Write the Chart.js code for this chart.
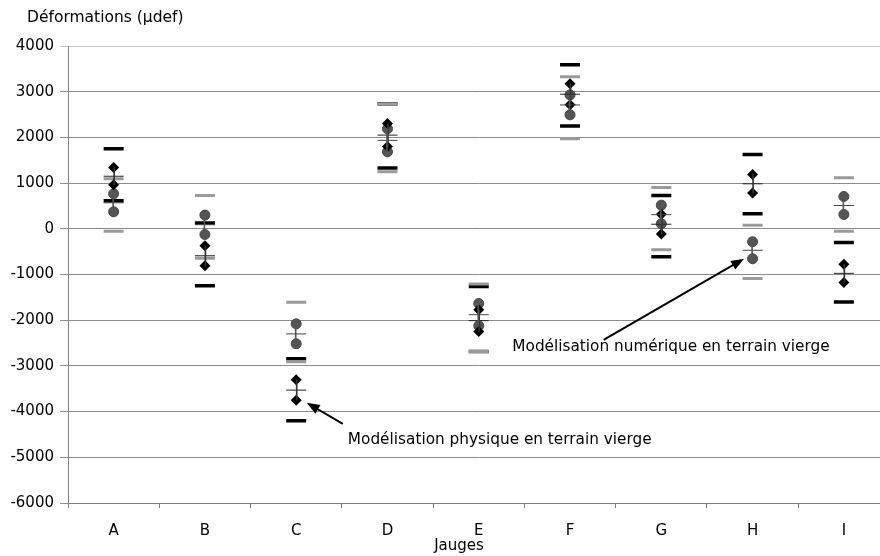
<!DOCTYPE html>
<html>
<head>
<meta charset="utf-8">
<script src="https://cdn.jsdelivr.net/npm/chart.js@4"></script>
<style>
html,body{margin:0;padding:0;background:#fff;overflow:hidden}
#wrap{position:relative;width:880px;height:556px;overflow:hidden}
#jauges{position:absolute;left:0;top:0}
</style>
</head>
<body>
<div id="wrap"><canvas id="jauges" width="903" height="556"></canvas></div>
<script>
// gauges on the x axis
const gauges=['A','B','C','D','E','F','G','H','I'];
const yTicks=[-6000,-5000,-4000,-3000,-2000,-1000,0,1000,2000,3000,4000];

// numeric model (grey circles), two values per gauge
const numHigh=[766,300,-2080,2188,-1634,2932,518,-284,707];
const numLow=[372,-124,-2516,1685,-2122,2494,109,-656,314];
const numMean=[570,90,-2300,1935,-1880,2710,310,-470,510];
// physical model (black diamonds)
const physHigh=[1342,-372,-3304,2304,-1772,3173,321,1189,-773];
const physLow=[963,-810,-3750,1801,-2247,2713,-116,781,-1175];
const physMean=[1150,-590,-3530,2050,-2010,2945,100,985,-975];
// grey bars = numeric bounds, black bars = physical bounds
const greyUp=[1094,729,-1605,2735,-1210,3326,904,80,1116];
const greyDown=[-51,-642,-2910,1247,-2685,1969,-460,-1087,-51];
const blackUp=[1750,125,-2845,2735,-1262,3589,729,1627,-300];
const blackDown=[613,-1247,-4201,1328,-2685,2247,-613,328,-1604];

// callouts, anchored in axis units (x = gauge index)
const notes=[
  {text:'Modélisation physique en terrain vierge',tx:2.566,ty:-4617,from:[2.511,-4267],to:[2.115,-3807]},
  {text:'Modélisation numérique en terrain vierge',tx:4.368,ty:-2582,from:[5.368,-2429],to:[6.907,-656]}
];

const FONT='"DejaVu Sans", sans-serif';

function pts(data,opts){
  return Object.assign({type:'line',data:data,showLine:false},opts);
}
function dash(data,color,w,order){
  return pts(data,{pointStyle:'line',pointRadius:10,pointBorderWidth:w,borderColor:color,pointBorderColor:color,order:order});
}
function span(a,b){
  return a.map((v,i)=>[Math.min(v,b[i]),Math.max(v,b[i])]);
}

const calloutPlugin={
  id:'callouts',
  afterDatasetsDraw(chart){
    const ctx=chart.ctx, xs=chart.scales.x, ys=chart.scales.y;
    ctx.save();
    ctx.fillStyle='#000';
    ctx.strokeStyle='#000';
    ctx.font='15.3px '+FONT;
    ctx.textBaseline='middle';
    notes.forEach(n=>{
      const x0=xs.getPixelForValue(n.from[0]), y0=ys.getPixelForValue(n.from[1]);
      const x1=xs.getPixelForValue(n.to[0]), y1=ys.getPixelForValue(n.to[1]);
      const a=Math.atan2(y1-y0,x1-x0);
      const L=13, W=5;
      ctx.lineWidth=2;
      ctx.beginPath();
      ctx.moveTo(x0,y0);
      ctx.lineTo(x1-Math.cos(a)*L*0.8,y1-Math.sin(a)*L*0.8);
      ctx.stroke();
      ctx.beginPath();
      ctx.moveTo(x1,y1);
      ctx.lineTo(x1-Math.cos(a)*L-Math.sin(a)*W,y1-Math.sin(a)*L+Math.cos(a)*W);
      ctx.lineTo(x1-Math.cos(a)*L+Math.sin(a)*W,y1-Math.sin(a)*L-Math.cos(a)*W);
      ctx.closePath();
      ctx.fill();
      ctx.textAlign='left';
      ctx.fillText(n.text,xs.getPixelForValue(n.tx),ys.getPixelForValue(n.ty));
    });
    // axis headings
    ctx.font='15.5px '+FONT;
    ctx.textAlign='left';
    ctx.fillText('Déformations (µdef)',27,18);
    ctx.font='15px '+FONT;
    ctx.textAlign='center';
    ctx.fillText('Jauges',459,546);
    ctx.restore();
  }
};

new Chart(document.getElementById('jauges'),{
  data:{
    labels:gauges,
    datasets:[
      {type:'bar',data:span(numHigh,numLow),backgroundColor:'#555',barThickness:1,order:1},
      {type:'bar',data:span(physHigh,physLow),backgroundColor:'#333',barThickness:1,order:1},
      dash(numMean,'#444',1,2),
      dash(physMean,'#222',1,2),
      pts(physHigh,{pointStyle:'rectRot',pointRadius:5.5,pointBackgroundColor:'#000',pointBorderColor:'#000',pointBorderWidth:0,order:3}),
      pts(physLow,{pointStyle:'rectRot',pointRadius:5.5,pointBackgroundColor:'#000',pointBorderColor:'#000',pointBorderWidth:0,order:3}),
      pts(numHigh,{pointStyle:'circle',pointRadius:5,pointBackgroundColor:'#555',pointBorderColor:'#444',pointBorderWidth:1,order:4}),
      pts(numLow,{pointStyle:'circle',pointRadius:5,pointBackgroundColor:'#555',pointBorderColor:'#444',pointBorderWidth:1,order:4}),
      dash(greyUp,'#9a9a9a',3,5),
      dash(greyDown,'#9a9a9a',3,5),
      dash(blackUp,'#000',3.5,6),
      dash(blackDown,'#000',3.5,6)
    ]
  },
  options:{
    responsive:false,
    animation:false,
    layout:{padding:{top:46,right:2,left:0,bottom:0}},
    plugins:{legend:{display:false},tooltip:{enabled:false}},
    scales:{
      x:{
        type:'category',
        offset:true,
        grid:{display:true,drawOnChartArea:false,offset:true,tickLength:5,color:'#808080'},
        border:{color:'#808080'},
        ticks:{color:'#000',font:{family:FONT,size:15},padding:14,maxRotation:0},
        afterFit(s){s.height=53;}
      },
      y:{
        min:-6000,max:4000,
        afterBuildTicks(s){s.ticks=yTicks.map(v=>({value:v}));},
        grid:{color:c=>c.tick&&c.tick.value===4000?'#c4c4c4':'#8c8c8c',tickLength:8},
        border:{color:'#808080'},
        ticks:{color:'#000',font:{family:FONT,size:15},padding:6,callback:v=>String(v)},
        afterFit(s){s.width=68;}
      }
    }
  },
  plugins:[calloutPlugin]
});
</script>
</body>
</html>
